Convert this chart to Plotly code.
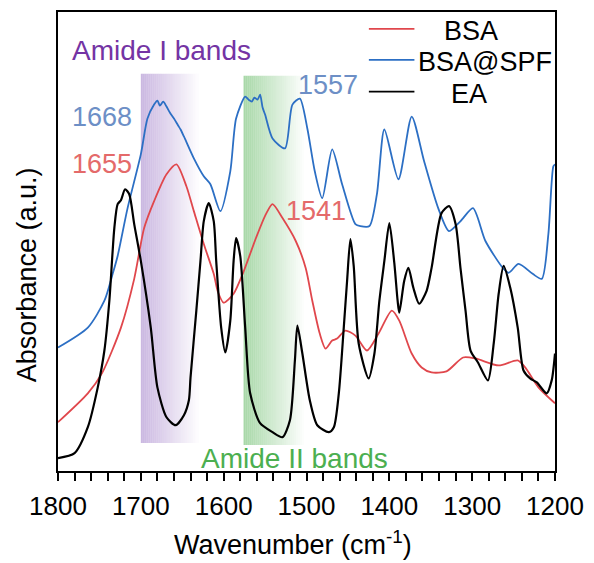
import plotly.graph_objects as go

# ---------------- data ----------------
bsa_x = [1800, 1764, 1747, 1724, 1708, 1696, 1684, 1669, 1657, 1645, 1636, 1624, 1612, 1607,
         1600, 1588, 1577, 1561, 1549, 1541, 1529, 1513, 1501, 1493, 1484, 1477, 1469, 1463,
         1453, 1441, 1427, 1413, 1397, 1388, 1373, 1361, 1349, 1331, 1311, 1296, 1268, 1245,
         1236, 1220, 1200]
bsa_y = [49, 78, 98, 144, 193, 244, 271, 298, 308, 286, 261, 228, 198, 180,
         169, 178, 198, 234, 258, 268, 254, 231, 204, 171, 138, 123, 131, 133,
         141, 136, 121, 138, 161, 151, 118, 104, 99, 100, 114, 113, 106, 111,
         104, 84, 68]

spf_x = [1800, 1764, 1744, 1734, 1728, 1716, 1700, 1692, 1684, 1680, 1677, 1673, 1669, 1665,
         1660, 1655, 1652, 1648, 1636, 1624, 1616, 1604, 1592, 1585, 1574, 1570, 1566, 1563,
         1559, 1556, 1553, 1550, 1541, 1526, 1517, 1508, 1499, 1490, 1481, 1469, 1457, 1441,
         1435, 1424, 1415, 1406, 1389, 1373, 1358, 1341, 1328, 1314, 1299, 1284, 1263, 1256,
         1244, 1227, 1216, 1208, 1202, 1200]
spf_y = [124, 144, 171, 198, 216, 264, 318, 354, 368, 372, 367, 371, 366, 360,
         354, 347, 343, 336, 314, 296, 288, 261, 301, 354, 376, 373, 371, 375,
         373, 378, 365, 358, 334, 324, 368, 374, 344, 301, 274, 323, 288, 248,
         246, 246, 278, 343, 293, 356, 311, 264, 241, 251, 264, 231, 204, 199,
         208, 198, 193, 238, 306, 308]

ea_x = [1800, 1780, 1764, 1752, 1744, 1738, 1732, 1728, 1724, 1719, 1714, 1708, 1700, 1688,
        1680, 1669, 1658, 1648, 1642, 1640, 1633, 1628, 1624, 1618, 1612, 1609, 1603, 1598,
        1592, 1588, 1585, 1580, 1574, 1568, 1556, 1541, 1529, 1520, 1514, 1511, 1505, 1496,
        1487, 1473, 1467, 1461, 1455, 1451, 1447, 1443, 1437, 1425, 1418, 1412, 1406, 1400,
        1394, 1390, 1388, 1382, 1377, 1371, 1364, 1355, 1349, 1337, 1328, 1320, 1314, 1308,
        1302, 1293, 1281, 1274, 1268, 1262, 1254, 1245, 1238, 1230, 1222, 1210, 1204, 1200]
ea_y = [13, 18, 44, 84, 121, 171, 244, 268, 272, 283, 278, 248, 211, 144,
        84, 54, 46, 56, 71, 94, 161, 211, 251, 269, 251, 211, 144, 119,
        151, 211, 234, 216, 144, 78, 48, 39, 34, 51, 111, 146, 118, 71,
        46, 39, 44, 78, 144, 191, 233, 206, 128, 93, 118, 171, 211, 249,
        209, 171, 159, 191, 204, 184, 168, 181, 204, 259, 266, 248, 203, 161,
        121, 109, 91, 128, 178, 206, 184, 144, 101, 93, 89, 78, 91, 118]

series_names = ["BSA", "BSA@SPF", "EA"]
peak_labels = ["1668", "1655", "1557", "1541"]
band_labels = ["Amide I bands", "Amide II bands"]
x_ticks = [1800, 1700, 1600, 1500, 1400, 1300, 1200]

RED = "#e0474c"
BLUE = "#2c6fc4"
BLACK = "#000000"
FONT = "Arial, Liberation Sans, sans-serif"

fig = go.Figure()
for xs, ys, c, w in [(bsa_x, bsa_y, RED, 1.8), (spf_x, spf_y, BLUE, 1.8), (ea_x, ea_y, BLACK, 2.2)]:
    fig.add_trace(go.Scatter(x=xs, y=ys, mode="lines", showlegend=False,
                             line=dict(color=c, width=w, shape="spline", smoothing=0.7)))

# gradient band rectangles
shapes = []
def band(x0, x1, y0, y1, rgb, a0, n=30):
    for i in range(n):
        xa = x0 + (x1 - x0) * i / n
        xb = x0 + (x1 - x0) * (i + 1) / n
        a = a0 * (1 - i / n)
        shapes.append(dict(type="rect", xref="x", yref="y", x0=xa, x1=xb, y0=y0, y1=y1,
                           fillcolor=f"rgba({rgb},{a:.3f})", line=dict(width=0), layer="below"))
band(1700, 1630, 28, 399, "160,125,200", 0.55)
band(1576, 1503, 26, 397, "110,190,110", 0.6)

# manual legend
lx0, lx1 = (372 - 58) / 502, (418 - 58) / 502
leg = [(series_names[0], RED, 27, 475.5), (series_names[1], BLUE, 58, 489), (series_names[2], BLACK, 90, 473.5)]
ann = []
for name, c, py, cx in leg:
    yy = (471 - py) / 461
    shapes.append(dict(type="line", xref="paper", yref="paper", x0=lx0, x1=lx1, y0=yy, y1=yy,
                       line=dict(color=c, width=1.8)))
    ann.append(dict(xref="paper", yref="paper", x=(cx - 58) / 502, y=(471 - py - 2) / 461,
                    text=name, showarrow=False, xanchor="center", yanchor="middle",
                    font=dict(family=FONT, size=27, color="black")))

def lab(text, x, y, color, size):
    ann.append(dict(xref="x", yref="y", x=x, y=y, text=text, showarrow=False,
                    xanchor="left", yanchor="middle", font=dict(family=FONT, size=size, color=color)))

lab(band_labels[0], 1785, 422, "#7434a4", 28)
lab(peak_labels[0], 1785, 356, "#6d8fc6", 27)
lab(peak_labels[1], 1785, 308, "#e46a6a", 27)
lab(peak_labels[2], 1513, 388, "#6d8fc6", 27)
lab(peak_labels[3], 1527, 261, "#e46a6a", 27)
lab(band_labels[1], 1630, 13, "#4caf50", 28)

# axis titles
ann.append(dict(xref="paper", yref="paper", x=(27 - 58) / 502, y=(471 - 274) / 461,
                text="Absorbance (a.u.)", textangle=-90, showarrow=False,
                xanchor="center", yanchor="middle", font=dict(family=FONT, size=27, color="black")))
ann.append(dict(xref="paper", yref="paper", x=(295 - 58) / 502, y=(471 - 543) / 461,
                text="Wavenumber (cm<sup>-1</sup>)", showarrow=False,
                xanchor="center", yanchor="middle", font=dict(family=FONT, size=27, color="black")))

fig.update_layout(
    width=594, height=563,
    margin=dict(l=58, r=34, t=10, b=92),
    paper_bgcolor="white", plot_bgcolor="white",
    shapes=shapes, annotations=ann,
    font=dict(family=FONT, color="black"),
    xaxis=dict(range=[1800, 1200], tickvals=x_ticks, ticks="outside", ticklen=8, tickwidth=1.5,
               tickcolor="black", showline=True, linewidth=2, linecolor="black", mirror=True,
               showgrid=False, zeroline=False, tickfont=dict(size=26, family=FONT),
               ticklabelstandoff=3,
               minor=dict(dtick=20, ticks="outside", ticklen=8, tickwidth=1.5, tickcolor="black", showgrid=False)),
    yaxis=dict(range=[0, 461], showticklabels=False, ticks="", showline=True, linewidth=2,
               linecolor="black", mirror=True, showgrid=False, zeroline=False),
)
fig.write_html("out.html")
